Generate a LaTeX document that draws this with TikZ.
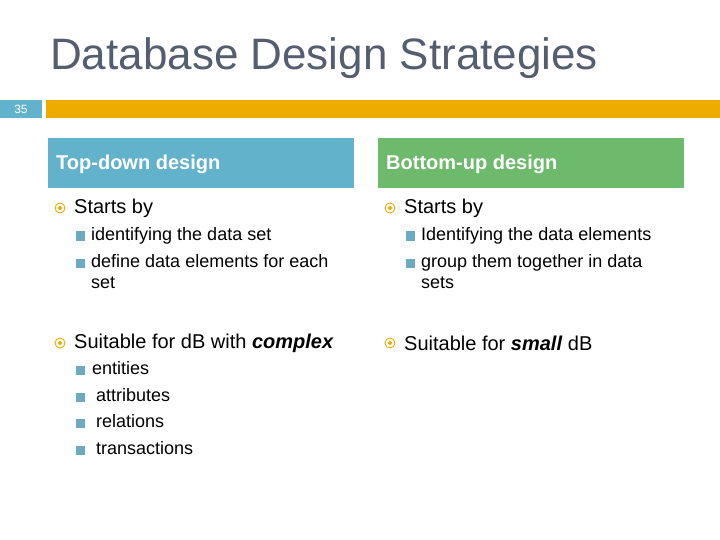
\documentclass[tikz,border=0pt]{standalone}
\usepackage{fontspec}
\setmainfont{Liberation Sans}
\definecolor{titlec}{RGB}{84,94,112}
\definecolor{bluec}{RGB}{98,178,204}
\definecolor{greenc}{RGB}{110,186,108}
\definecolor{orangec}{RGB}{238,172,0}
\definecolor{sqc}{RGB}{108,170,196}
\tikzset{
  lvl1/.style={anchor=west,font=\fontsize{20}{24}\selectfont,inner sep=0pt},
  lvl2/.style={anchor=north west,font=\fontsize{18}{21}\selectfont,inner sep=0pt,align=left},
  hdr/.style={anchor=west,font=\bfseries\fontsize{20}{24}\selectfont,text=white,inner sep=0pt},
  sq/.style={fill=sqc,minimum size=9pt,inner sep=0pt},
}
\newcommand{\circbul}[2]{\draw[orangec,line width=0.9pt] (#1,#2) circle (5); \fill[orangec] (#1,#2) circle (2);}
\begin{document}
\begin{tikzpicture}[x=1pt,y=-1pt]
\useasboundingbox (0,0) rectangle (720,540);
\node[anchor=west,text=titlec,font=\fontsize{44}{52}\selectfont,inner sep=0pt] (title) at (50,58) {Database Design Strategies};
\fill[bluec] (0,100) rectangle (42,118);
\node[text=white,font=\fontsize{12}{14}\selectfont] (num) at (21,109) {35};
\fill[orangec] (46,100) rectangle (720,118);
\fill[bluec] (48,138) rectangle (354,188);
\node[hdr] (h1) at (56,164) {Top-down design};
\fill[greenc] (378,138) rectangle (684,188);
\node[hdr] (h2) at (386,164) {Bottom-up design};
% left
\circbul{60}{208}
\node[lvl1] (a1) at (74,208) {Starts by};
\node[sq] at (80,236) {}; \node[lvl2] (a2) at (91,227) {identifying the data set};
\node[sq] at (80,263) {}; \node[lvl2] (a3) at (91,254) {define data elements for each\\set};
\circbul{60}{343}
\node[lvl1] (a4) at (74,343) {Suitable for dB with \textbf{\textit{complex}}};
\node[sq] at (80,370) {}; \node[lvl2] (a5) at (92,361) {entities};
\node[sq] at (80,397) {}; \node[lvl2] (a6) at (96,388) {attributes};
\node[sq] at (80,423) {}; \node[lvl2] (a7) at (96,414) {relations};
\node[sq] at (80,450) {}; \node[lvl2] (a8) at (96,441) {transactions};
% right
\circbul{390}{208}
\node[lvl1] (b1) at (404,208) {Starts by};
\node[sq] at (410,236) {}; \node[lvl2] (b2) at (421,227) {Identifying the data elements};
\node[sq] at (410,263) {}; \node[lvl2] (b3) at (421,254) {group them together in data\\sets};
\circbul{390}{343}
\node[lvl1] (b4) at (404,343) {Suitable for \textbf{\textit{small}} dB};
\end{tikzpicture}
\end{document}
